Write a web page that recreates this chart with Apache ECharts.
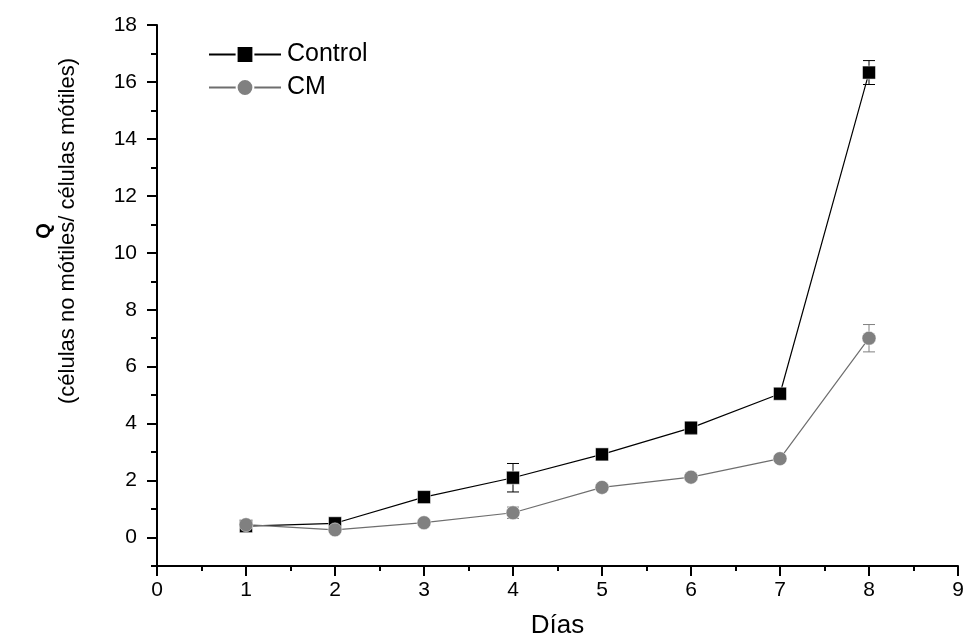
<!DOCTYPE html>
<html>
<head>
<meta charset="utf-8">
<script src="https://cdn.jsdelivr.net/npm/echarts@6/dist/echarts.min.js"></script>
<style>
  html, body { margin: 0; padding: 0; background: #fff; }
  #chart { width: 965px; height: 641px; }
</style>
</head>
<body>
<div id="chart"></div>
<script>
const days = [1, 2, 3, 4, 5, 6, 7, 8]
const controlQ = [0.4, 0.5, 1.42, 2.1, 2.92, 3.85, 5.05, 16.33]
const controlErr = [0.05, 0.05, 0.08, 0.5, 0.08, 0.22, 0.08, 0.42]
const cmQ = [0.45, 0.27, 0.52, 0.87, 1.76, 2.12, 2.77, 7.0]
const cmErr = [0.05, 0.05, 0.05, 0.2, 0.05, 0.05, 0.05, 0.48]
const yTickLabels = [0, 2, 4, 6, 8, 10, 12, 14, 16, 18]

const FONT = '"Liberation Sans", Arial, sans-serif'

function errData(vals, errs) {
  return days.map((d, i) => [d, vals[i] - errs[i], vals[i] + errs[i]])
}

function errRender(color) {
  return function (params, api) {
    const x = api.value(0)
    const lo = api.coord([x, api.value(1)])
    const hi = api.coord([x, api.value(2)])
    const w = 6
    const style = { stroke: color, lineWidth: 1 }
    return {
      type: 'group',
      children: [
        { type: 'line', shape: { x1: lo[0], y1: lo[1], x2: hi[0], y2: hi[1] }, style },
        { type: 'line', shape: { x1: lo[0] - w, y1: lo[1], x2: lo[0] + w, y2: lo[1] }, style },
        { type: 'line', shape: { x1: hi[0] - w, y1: hi[1], x2: hi[0] + w, y2: hi[1] }, style },
      ],
    }
  }
}

const chart = echarts.init(document.getElementById('chart'))

const option = {
  animation: false,
  grid: { left: 157, right: 7, top: 25, bottom: 75, outerBoundsMode: 'none' },
  legend: {
    orient: 'vertical',
    left: 203,
    top: 37,
    itemWidth: 72,
    itemHeight: 21,
    itemGap: 8,
    data: ['Control', 'CM'],
    textStyle: { fontFamily: FONT, fontSize: 25, color: '#000', padding: [0, 0, 0, 1] },
  },
  xAxis: {
    type: 'value',
    min: 0,
    max: 9,
    interval: 1,
    name: 'Días',
    nameLocation: 'middle',
    nameGap: 47,
    nameTextStyle: { fontFamily: FONT, fontSize: 26, color: '#000' },
    axisLine: { onZero: false, lineStyle: { color: '#000', width: 2 } },
    axisTick: { length: 10, lineStyle: { color: '#000', width: 2 } },
    minorTick: { show: true, splitNumber: 2, length: 5, lineStyle: { color: '#000', width: 2 } },
    axisLabel: { fontFamily: FONT, fontSize: 21, color: '#000', margin: 14 },
    splitLine: { show: false },
  },
  yAxis: [
    {
      type: 'value',
      min: -1,
      max: 18,
      interval: 1,
      axisLine: { onZero: false, lineStyle: { color: '#000', width: 2 } },
      axisTick: { length: 10, customValues: yTickLabels, lineStyle: { color: '#000', width: 2 } },
      axisLabel: {
        fontFamily: FONT, fontSize: 21, color: '#000', margin: 20,
        customValues: yTickLabels,
      },
      splitLine: { show: false },
    },
    {
      type: 'value',
      position: 'left',
      min: -1,
      max: 18,
      interval: 1,
      axisLine: { show: false, onZero: false },
      axisTick: { length: 6, lineStyle: { color: '#000', width: 2 } },
      axisLabel: { show: false },
      splitLine: { show: false },
    },
  ],
  graphic: [
    {
      type: 'text',
      x: 56,
      y: 231,
      rotation: Math.PI / 2,
      style: {
        text: '{q|Q}\n{t|(células no mótiles/ células mótiles)}',
        align: 'center',
        verticalAlign: 'middle',
        fill: '#000',
        rich: {
          q: { fontFamily: FONT, fontSize: 20, fontWeight: 'bold', lineHeight: 24, align: 'center' },
          t: { fontFamily: FONT, fontSize: 22, lineHeight: 24, align: 'center' },
        },
      },
    },
  ],
  series: [
    {
      name: 'Control',
      type: 'line',
      data: days.map((d, i) => [d, controlQ[i]]),
      symbol: 'rect',
      symbolSize: 13,
      itemStyle: { color: '#000', borderColor: '#fff', borderWidth: 0.5 },
      lineStyle: { color: '#000', width: 1.2 },
      z: 3,
    },
    {
      name: 'CM',
      type: 'line',
      data: days.map((d, i) => [d, cmQ[i]]),
      symbol: 'circle',
      symbolSize: 14,
      itemStyle: { color: '#808080', borderColor: '#fff', borderWidth: 0.5 },
      lineStyle: { color: '#6e6e6e', width: 1.2 },
      z: 4,
    },
    {
      type: 'custom',
      data: errData(controlQ, controlErr),
      renderItem: errRender('#000'),
      z: 2,
      silent: true,
    },
    {
      type: 'custom',
      data: errData(cmQ, cmErr),
      renderItem: errRender('#808080'),
      z: 2,
      silent: true,
    },
  ],
}

chart.setOption(option)
</script>
</body>
</html>
